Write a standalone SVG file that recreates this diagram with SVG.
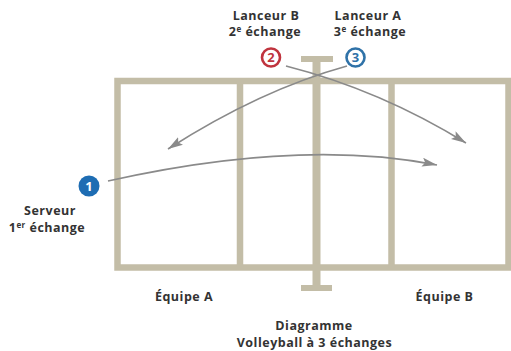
<svg xmlns="http://www.w3.org/2000/svg" width="511" height="351" viewBox="0 0 511 351">
<defs>
<style>
.court{fill:none;stroke:#c3bda7;stroke-width:6.5}
.cl{stroke:#c3bda7;stroke-width:6.5}
.net{fill:#c3bda7}
.arr{fill:none;stroke:#8a8a8a;stroke-width:1.6}
.t{font-family:"Open Sans","Liberation Sans",sans-serif;font-weight:bold;font-size:12.5px;letter-spacing:0.5px;fill:#333;text-anchor:middle}
.n{font-family:"Open Sans","Liberation Sans",sans-serif;font-weight:bold;font-size:13px;text-anchor:middle}
</style>
<marker id="ah" markerUnits="userSpaceOnUse" markerWidth="16" markerHeight="10" refX="15" refY="4.5" orient="auto">
<path d="M0,0 L15,4.5 L0,9 L3,4.5 z" fill="#8a8a8a"/>
</marker>
</defs>
<rect width="511" height="351" fill="#ffffff"/>
<g id="court">
<rect class="court" x="117.5" y="81" width="391" height="186.5"/>
<line class="cl" x1="240" y1="81" x2="240" y2="267.5"/>
<line class="cl" x1="391.5" y1="81" x2="391.5" y2="267.5"/>
</g>
<g id="net">
<rect class="net" x="312.5" y="56" width="8" height="235"/>
<rect class="net" x="301" y="56" width="32" height="6"/>
<rect class="net" x="301" y="285" width="31" height="6"/>
</g>
<g id="connectors">
<path class="arr" d="M108,181 Q300,138 437,165" marker-end="url(#ah)"/>
<path class="arr" d="M286,66 Q380,90 466,143" marker-end="url(#ah)"/>
<path class="arr" d="M347,66 Q260,90 168,149" marker-end="url(#ah)"/>
</g>
<g id="lanceurB">
<text class="t" x="266" y="19.5">Lanceur B</text>
<text class="t" x="265" y="36">2<tspan font-size="8" dy="-4.5">e</tspan><tspan dy="4.5"> échange</tspan></text>
<circle cx="271" cy="57.5" r="9" fill="#fff" stroke="#c0343e" stroke-width="2.6"/>
<text class="n" x="271" y="62" fill="#c0343e">2</text>
</g>
<g id="lanceurA">
<text class="t" x="368" y="19.5">Lanceur A</text>
<text class="t" x="370" y="36">3<tspan font-size="8" dy="-4.5">e</tspan><tspan dy="4.5"> échange</tspan></text>
<circle cx="355.5" cy="57.5" r="9" fill="#fff" stroke="#2f72a8" stroke-width="2.6"/>
<text class="n" x="355.5" y="62" fill="#2f72a8">3</text>
</g>
<g id="serveur">
<circle cx="89" cy="186" r="10.5" fill="#1e6db3"/>
<text class="n" x="89" y="190.5" fill="#fff">1</text>
<text class="t" x="50" y="215">Serveur</text>
<text class="t" x="47" y="232">1<tspan font-size="8" dy="-4.5">er</tspan><tspan dy="4.5"> échange</tspan></text>
</g>
<g id="equipeA"><text class="t" x="184" y="301">Équipe A</text></g>
<g id="equipeB"><text class="t" x="444.5" y="301">Équipe B</text></g>
<g id="title">
<text class="t" x="314" y="330">Diagramme</text>
<text class="t" x="314.5" y="347">Volleyball à 3 échanges</text>
</g>
</svg>
